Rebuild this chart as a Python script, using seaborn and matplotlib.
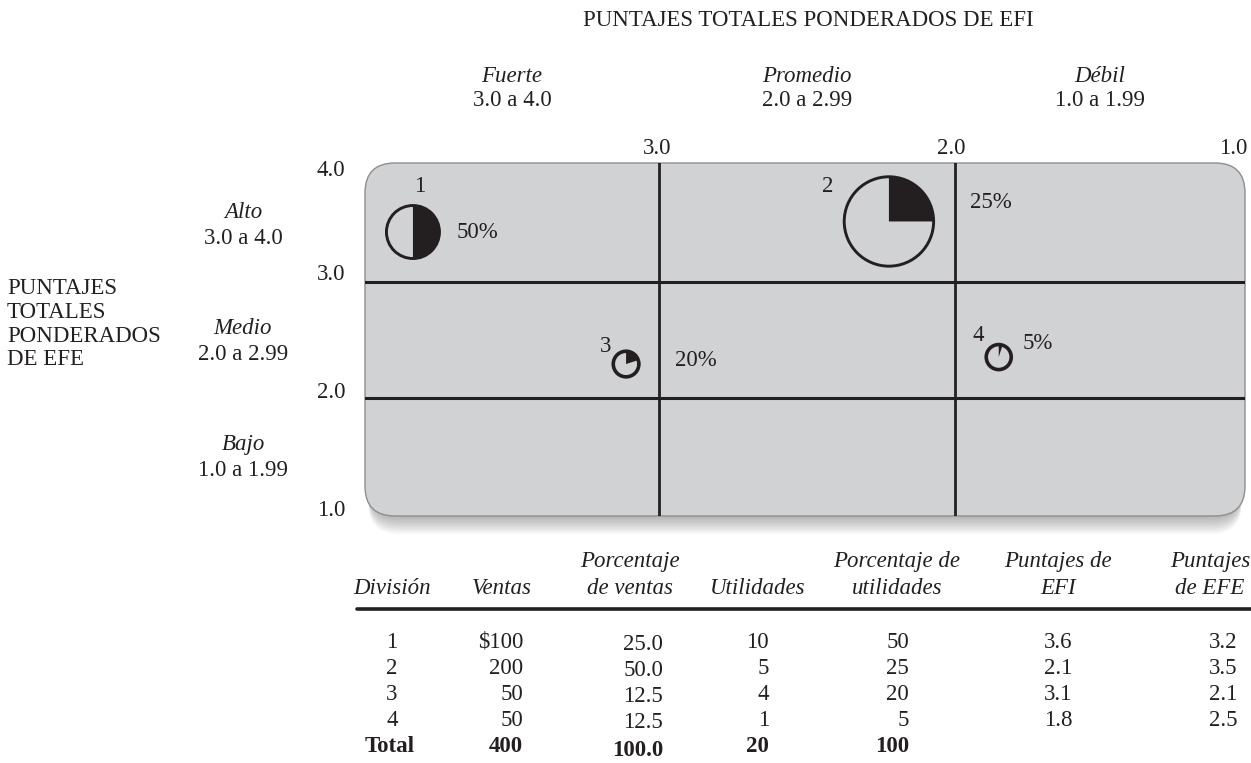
import numpy as np
import pandas as pd
import matplotlib
matplotlib.use("Agg")
import matplotlib.pyplot as plt
import seaborn as sns
from matplotlib.patches import FancyBboxPatch, Wedge
from matplotlib.transforms import Affine2D, ScaledTranslation, offset_copy

# ---------------- data ----------------
divisions = ["1", "2", "3", "4"]
ventas = ["$100", "200", "50", "50"]
pct_ventas = ["25.0", "50.0", "12.5", "12.5"]
utilidades = ["10", "5", "4", "1"]
pct_utilidades = [50, 25, 20, 5]
efi_scores = ["3.6", "2.1", "3.1", "1.8"]
efe_scores = ["3.2", "3.5", "2.1", "2.5"]
totals = ["400", "100.0", "20", "100"]
# circle centres as drawn in the matrix (EFI on x, EFE on y)
efi_drawn = [3.831, 2.223, 3.111, 1.852]
efe_drawn = [3.431, 3.522, 2.293, 2.353]

col_levels = ["Fuerte", "Promedio", "Débil"]
col_ranges = ["3.0 a 4.0", "2.0 a 2.99", "1.0 a 1.99"]
row_levels = ["Alto", "Medio", "Bajo"]
row_ranges = ["3.0 a 4.0", "2.0 a 2.99", "1.0 a 1.99"]
x_ticks = ["3.0", "2.0", "1.0"]
y_ticks = ["4.0", "3.0", "2.0", "1.0"]
col_bounds = [4.0, 3.0, 2.0, 1.0]
row_bounds = [4.0, 3.0, 2.0, 1.0]

# ---------------- style ----------------
sns.set_theme(style="white")
plt.rcParams["font.family"] = ["Liberation Serif", "DejaVu Serif"]
INK = "#231f20"
FS = 16.5

W, H = 1251, 763
fig = plt.figure(figsize=(W / 100, H / 100), dpi=100)


def fx(px):
    return px / W


def fy(py):
    return 1 - py / H


def ftext(px, py, s, ha="center", va="center", **kw):
    kw.setdefault("fontsize", FS)
    kw.setdefault("color", INK)
    fig.text(fx(px), fy(py), s, ha=ha, va=va, **kw)


# ---------------- matrix axes ----------------
L, R, T, B = 365, 1245, 163, 516
ax = fig.add_axes([fx(L), fy(B), (R - L) / W, (B - T) / H])

df = pd.DataFrame({"div": divisions, "efi": efi_drawn, "efe": efe_drawn})
radius_px = {"1": 26.5, "2": 44.7, "3": 12.8, "4": 12.5}
sizes = {d: (2 * r * 72 / 100) ** 2 for d, r in radius_px.items()}
sns.scatterplot(data=df, x="efi", y="efe", size="div", sizes=sizes,
                legend=False, ax=ax, zorder=6)
coll = ax.collections[-1]
coll.set_facecolor("none")
coll.set_edgecolor(INK)
coll.set_linewidth([2.1, 2.1, 2.6, 2.6])

ax.set_xlim(3.993, 1.020)
ax.set_ylim(0.983, 4.026)
ax.axis("off")

# rounded grey panel + soft shadow
aspect = (R - L) / (B - T)
for k in range(1, 14):
    sh = FancyBboxPatch((0.004, 0), 0.992, 1,
                        boxstyle="round,pad=0,rounding_size=0.034",
                        mutation_aspect=aspect,
                        transform=offset_copy(ax.transAxes, fig, x=0, y=-k * 1.4, units="dots"),
                        facecolor="black", edgecolor="none", alpha=0.022,
                        zorder=0, clip_on=False)
    ax.add_patch(sh)
panel = FancyBboxPatch((0, 0), 1, 1, boxstyle="round,pad=0,rounding_size=0.034",
                       mutation_aspect=aspect, transform=ax.transAxes,
                       facecolor="#d1d2d4", edgecolor="#8e8e8e", lw=1.0,
                       zorder=1, clip_on=False)
ax.add_patch(panel)

for v in col_bounds[1:3]:
    ax.axvline(v, color=INK, lw=2.0, zorder=2)
for v in row_bounds[1:3]:
    ax.axhline(v, color=INK, lw=2.2, zorder=2)

# pie wedges (black part = % of profits)
for d, x, y, p in zip(divisions, efi_drawn, efe_drawn, pct_utilidades):
    r = radius_px[d]
    tr = Affine2D().scale(r) + ScaledTranslation(x, y, ax.transData)
    ax.add_patch(Wedge((0, 0), 1, 90 - 3.6 * p, 90, transform=tr,
                       facecolor=INK, lw=0, zorder=5))

num_off = [(7, -46), (-61, -35), (-21, -18), (-20, -22)]
pct_off = [(44, 0), (81, -19), (49, -4), (24, -14)]
for d, x, y, p, no, po in zip(divisions, efi_drawn, efe_drawn, pct_utilidades, num_off, pct_off):
    ax.annotate(d, xy=(x, y), xytext=(no[0], -no[1]), textcoords="offset pixels",
                ha="center", va="center", fontsize=FS, color=INK, zorder=7)
    ax.annotate(f"{p}%", xy=(x, y), xytext=(po[0], -po[1]), textcoords="offset pixels",
                ha="left", va="center", fontsize=FS, color=INK, zorder=7)

# ---------------- surrounding labels ----------------
ftext(808, 21, "PUNTAJES TOTALES PONDERADOS DE EFI")
for cx, lev, rng in zip([512, 807, 1100], col_levels, col_ranges):
    ftext(cx, 77, lev, style="italic")
    ftext(cx, 101, rng)
for cx, t in zip([657, 951, 1233], x_ticks):
    ftext(cx, 148, t)
for cy, t in zip([170, 274, 392, 510], y_ticks):
    ftext(345, cy, t, ha="right")
for cy, lev, rng in zip([212, 328, 445], row_levels, row_ranges):
    ftext(243, cy, lev, style="italic")
    ftext(243, cy + 26, rng)
for cy, t in zip([288, 312, 336, 360], ["PUNTAJES", "TOTALES", "PONDERADOS", "DE EFE"]):
    ftext(7, cy, t, ha="left")

# ---------------- table ----------------
hdr1 = [(630, "Porcentaje"), (897, "Porcentaje de"), (1058, "Puntajes de"), (1210, "Puntajes")]
hdr2 = [(392, "División"), (502, "Ventas"), (630, "de ventas"), (758, "Utilidades"),
        (897, "utilidades"), (1058, "EFI"), (1210, "de EFE")]
for cx, t in hdr1:
    ftext(cx, 562, t, style="italic")
for cx, t in hdr2:
    ftext(cx, 588, t, style="italic")
fig.add_artist(plt.Line2D([fx(357), fx(1251)], [fy(609), fy(609)], color=INK, lw=2.6))

row_y = [642, 668, 694, 720]
for i, yy in enumerate(row_y):
    ftext(392, yy, divisions[i])
    ftext(523, yy, ventas[i], ha="right")
    ftext(663, yy + 3, pct_ventas[i], ha="right")
    ftext(769, yy, utilidades[i], ha="right")
    ftext(909, yy, str(pct_utilidades[i]), ha="right")
    ftext(1058, yy, efi_scores[i])
    ftext(1223, yy, efe_scores[i])
ty = 747
ftext(390, ty, "Total", weight="bold")
ftext(523, ty, totals[0], ha="right", weight="bold")
ftext(663, ty + 3, totals[1], ha="right", weight="bold")
ftext(769, ty, totals[2], ha="right", weight="bold")
ftext(909, ty, totals[3], ha="right", weight="bold")

fig.savefig("out.png", dpi=100)
